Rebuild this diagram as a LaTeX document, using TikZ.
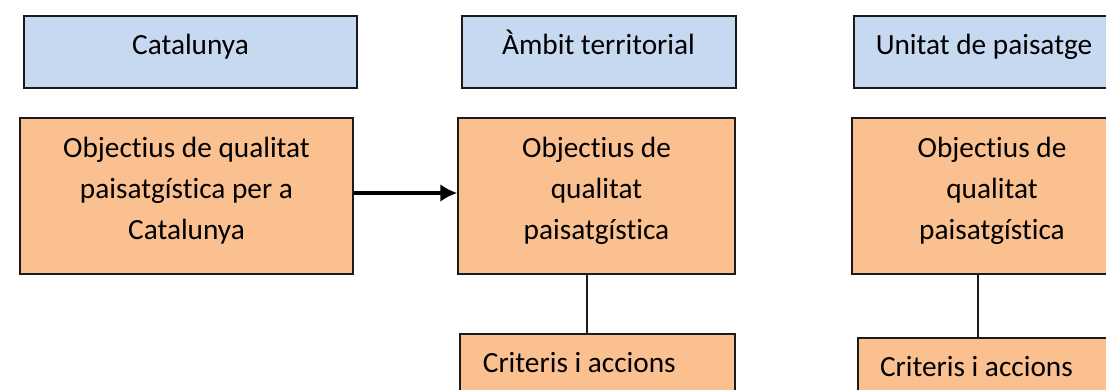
\documentclass[tikz,border=0pt]{standalone}
\usepackage{fontspec}
\setmainfont{Carlito}[Ligatures=NoCommon]
\usetikzlibrary{arrows.meta}
\definecolor{boxblue}{HTML}{C6D9F1}
\definecolor{boxorange}{HTML}{FAC090}
\definecolor{edgecol}{HTML}{1A1A1A}
\tikzset{
  boxbase/.style={draw=edgecol, line width=1.5pt, rectangle, inner sep=0pt},
  bluebox/.style={boxbase, fill=boxblue},
  orangebox/.style={boxbase, fill=boxorange},
  txt/.style={inner sep=0pt, anchor=base, font=\fontsize{29.3}{41}\selectfont, text=black},
  txtl/.style={txt, anchor=base west},
  link/.style={draw=edgecol, line width=1.5pt},
  arrowlink/.style={draw=black, line width=3.5pt, -{Latex[length=17pt,width=18pt]}}
}
\begin{document}
\begin{tikzpicture}[x=1pt,y=-1pt]
\useasboundingbox (0,0) rectangle (1106,390);
\clip (0,0) rectangle (1106,390);
\fill[white] (0,0) rectangle (1106,390);
% header boxes
\node[bluebox, minimum width=333pt, minimum height=72pt] (B1) at (190.5,52) {};
\node[bluebox, minimum width=274pt, minimum height=72pt] (B2) at (599,52) {};
\node[bluebox, minimum width=274pt, minimum height=72pt] (B3) at (991,52) {};
\node[txt] (tB1) at (190.5,55) {Catalunya};
\node[txt] (tB2) at (598.5,54.5) {Àmbit territorial};
\node[txt] (tB3) at (984,54.5) {Unitat de paisatge};
% objective boxes
\node[orangebox, minimum width=333pt, minimum height=156pt] (O1) at (186.5,196) {};
\node[orangebox, minimum width=277pt, minimum height=156pt] (O2) at (596.5,196) {};
\node[orangebox, minimum width=280pt, minimum height=156pt] (O3) at (992,196) {};
\node[txt] (tO1a) at (186.5,157.3) {Objectius de qualitat};
\node[txt] (tO1b) at (186.5,198.3) {paisatgística per a};
\node[txt] (tO1c) at (186.5,239.3) {Catalunya};
\node[txt] (tO2a) at (596.5,157.3) {Objectius de};
\node[txt] (tO2b) at (596.5,198.3) {qualitat};
\node[txt] (tO2c) at (596.5,239.3) {paisatgística};
\node[txt] (tO3a) at (992,157.3) {Objectius de};
\node[txt] (tO3b) at (992,198.3) {qualitat};
\node[txt] (tO3c) at (992,239.3) {paisatgística};
% criteria boxes
\node[orangebox, minimum width=275pt, minimum height=90pt] (C2) at (597.5,379) {};
\node[orangebox, minimum width=278pt, minimum height=90pt] (C3) at (997,383) {};
\node[txtl] (tC2) at (482.7,372.7) {Criteris i accions};
\node[txtl] (tC3) at (879.8,376.7) {Criteris i accions};
% connectors
\coordinate (l2) at (587,0);
\coordinate (l3) at (978,0);
\coordinate (ay) at (0,193);
\draw[link] (O2.south -| l2) -- (C2.north -| l2);
\draw[link] (O3.south -| l3) -- (C3.north -| l3);
\draw[arrowlink] (O1.east |- ay) -- (O2.west |- ay);
\end{tikzpicture}
\end{document}
